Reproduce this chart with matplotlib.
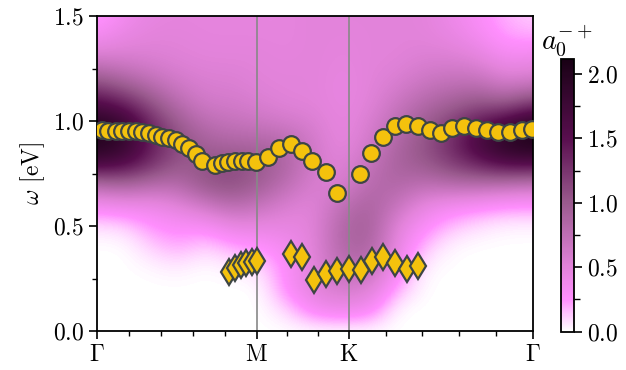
import numpy as np
import matplotlib
matplotlib.use("Agg")
import matplotlib.pyplot as plt
from matplotlib.colors import LinearSegmentedColormap
from matplotlib.ticker import MultipleLocator, FixedLocator

plt.rcParams["font.family"] = "serif"
plt.rcParams["font.serif"] = ["cmr10"]
plt.rcParams["mathtext.fontset"] = "cm"
plt.rcParams["axes.formatter.use_mathtext"] = True
plt.rcParams["font.size"] = 17

# high-symmetry points along the path (hexagonal BZ, path length units)
k_labels = [r"$\Gamma$", r"$\mathrm{M}$", r"$\mathrm{K}$", r"$\Gamma$"]
k_nodes = [0.0, 0.5774, 0.9107, 1.5774]
k_minor_steps = [5, 3, 5]

# spectral weight a_0^{-+}(k, omega) on a coarse grid
omega_grid = np.arange(0.0, 1.51, 0.1)
spec = np.array([
    # one column per k point, rows omega = 0.0 ... 1.5
    [0, 0, 0, 0, 0, 0.08, 0.35, 0.80, 1.70, 2.05, 1.95, 1.50, 1.00, 0.60, 0.35, 0.20],
    [0, 0, 0, 0, 0, 0.10, 0.40, 0.90, 1.60, 1.90, 1.80, 1.30, 0.85, 0.58, 0.45, 0.36],
    [0, 0, 0, 0.02, 0.12, 0.25, 0.40, 0.80, 1.30, 1.40, 1.30, 1.00, 0.72, 0.55, 0.50, 0.46],
    [0, 0, 0, 0.05, 0.20, 0.30, 0.50, 0.80, 1.00, 1.10, 0.95, 0.75, 0.60, 0.52, 0.50, 0.48],
    [0, 0, 0, 0, 0.10, 0.30, 0.65, 1.05, 1.05, 0.90, 0.75, 0.60, 0.55, 0.50, 0.48, 0.47],
    [0, 0, 0, 0.05, 0.20, 0.45, 0.80, 1.10, 1.10, 0.85, 0.70, 0.60, 0.55, 0.50, 0.48, 0.47],
    [0, 0, 0, 0.08, 0.25, 0.45, 0.70, 0.95, 1.00, 0.85, 0.65, 0.55, 0.50, 0.50, 0.48, 0.47],
    [0, 0.10, 0.30, 0.30, 0.35, 0.45, 0.55, 0.75, 0.85, 0.80, 0.60, 0.50, 0.50, 0.48, 0.47, 0.47],
    [0, 0.35, 0.50, 0.50, 0.50, 0.50, 0.50, 0.55, 0.60, 0.60, 0.55, 0.50, 0.50, 0.50, 0.50, 0.50],
    [0, 0.40, 0.60, 0.75, 0.85, 0.85, 0.75, 0.55, 0.50, 0.45, 0.45, 0.45, 0.45, 0.47, 0.48, 0.50],
    [0, 0.35, 0.55, 0.75, 0.90, 0.95, 0.90, 0.80, 0.70, 0.60, 0.55, 0.50, 0.50, 0.50, 0.50, 0.50],
    [0, 0, 0.20, 0.35, 0.45, 0.50, 0.70, 0.85, 0.90, 0.85, 0.75, 0.65, 0.55, 0.50, 0.50, 0.50],
    [0, 0, 0, 0.03, 0.15, 0.30, 0.45, 0.75, 1.00, 1.05, 0.95, 0.80, 0.65, 0.55, 0.50, 0.50],
    [0, 0, 0, 0, 0.02, 0.15, 0.35, 0.80, 1.20, 1.30, 1.15, 0.90, 0.70, 0.55, 0.45, 0.40],
    [0, 0, 0, 0, 0, 0.08, 0.30, 0.80, 1.40, 1.70, 1.40, 1.00, 0.70, 0.50, 0.35, 0.30],
    [0, 0, 0, 0, 0, 0.03, 0.25, 0.75, 1.60, 2.00, 1.60, 0.90, 0.55, 0.35, 0.22, 0.18],
    [0, 0, 0, 0, 0, 0.03, 0.25, 0.70, 1.60, 2.10, 1.90, 1.10, 0.60, 0.40, 0.20, 0.12],
]).T

# quasiparticle band (circles)
band_k = [0.017, 0.041, 0.068, 0.092, 0.116, 0.140, 0.164, 0.188, 0.212, 0.236,
          0.261, 0.285, 0.309, 0.333, 0.357, 0.381, 0.427, 0.451, 0.475, 0.499,
          0.524, 0.547, 0.574, 0.618, 0.659, 0.702, 0.743, 0.777, 0.828, 0.868,
          0.953, 0.992, 1.035, 1.077, 1.119, 1.161, 1.204, 1.244, 1.286, 1.327,
          1.370, 1.411, 1.452, 1.495, 1.537, 1.575]
band_w = [0.957, 0.954, 0.951, 0.951, 0.951, 0.951, 0.948, 0.941, 0.935, 0.925,
          0.919, 0.910, 0.890, 0.871, 0.843, 0.808, 0.792, 0.798, 0.805, 0.808,
          0.808, 0.808, 0.805, 0.827, 0.871, 0.890, 0.856, 0.808, 0.757, 0.656,
          0.750, 0.846, 0.922, 0.978, 0.986, 0.978, 0.959, 0.941, 0.967, 0.976,
          0.967, 0.957, 0.948, 0.948, 0.957, 0.962]

# low-energy branch (diamonds)
low_k = [0.479, 0.499, 0.520, 0.539, 0.560, 0.578, 0.701, 0.743, 0.785,
         0.828, 0.869, 0.912, 0.954, 0.994, 1.036, 1.078, 1.121, 1.163]
low_w = [0.283, 0.302, 0.314, 0.322, 0.327, 0.335, 0.367, 0.351, 0.243,
         0.270, 0.287, 0.294, 0.290, 0.335, 0.351, 0.322, 0.294, 0.310]

vmax = 2.12
cmap = LinearSegmentedColormap.from_list("pinkpurple", [
    (0.0, "#ffffff"),
    (0.047, "#ffd6ff"),
    (0.118, "#ff8ffe"),
    (0.236, "#e283da"),
    (0.472, "#9a5a8e"),
    (0.708, "#580e4e"),
    (0.943, "#250420"),
    (1.0, "#180014"),
])

fig = plt.figure(figsize=(6.26, 3.70), dpi=100)
ax = fig.add_axes([97 / 626, 1 - 331 / 370, 436 / 626, 315 / 370])
cax = fig.add_axes([561 / 626, 1 - 331.5 / 370, 13 / 626, 273 / 370])

nk = spec.shape[1]
dk = k_nodes[-1] / (nk - 1)
dw = omega_grid[1] - omega_grid[0]
im = ax.imshow(spec, origin="lower", aspect="auto", cmap=cmap, vmin=0, vmax=vmax,
               interpolation="bicubic",
               extent=[-dk / 2, k_nodes[-1] + dk / 2, -dw / 2, omega_grid[-1] + dw / 2])

for kk in k_nodes[1:-1]:
    ax.axvline(kk, color="#888888", lw=1.2, zorder=2)

ax.plot(band_k, band_w, "o", ms=12, mfc="#f4c20d", mec="#3d4545", mew=1.6, zorder=3)
ax.plot(low_k, low_w, "d", ms=13, mfc="#f4c20d", mec="#3d4545", mew=1.6, zorder=3)

ax.set_xlim(k_nodes[0], k_nodes[-1])
ax.set_ylim(0, 1.5)
ax.set_xticks(k_nodes)
ax.set_xticklabels(k_labels)
minor = []
for a, b, n in zip(k_nodes[:-1], k_nodes[1:], k_minor_steps):
    minor += list(np.linspace(a, b, n + 1)[1:-1])
ax.xaxis.set_minor_locator(FixedLocator(minor))
ax.yaxis.set_major_locator(MultipleLocator(0.5))
ax.yaxis.set_minor_locator(MultipleLocator(0.25))
ax.set_ylabel(r"$\omega$ [eV]")
ax.tick_params(which="major", length=6, width=1.2)
ax.tick_params(which="minor", length=3.5, width=1.0)
for s in ax.spines.values():
    s.set_linewidth(1.3)

cb = fig.colorbar(im, cax=cax)
cb.set_ticks([0.0, 0.5, 1.0, 1.5, 2.0])
cb.ax.yaxis.set_minor_locator(MultipleLocator(0.25))
cb.ax.tick_params(which="major", length=6, width=1.2)
cb.ax.tick_params(which="minor", length=4, width=1.0)
cb.outline.set_linewidth(1.3)
cax.set_title(r"$a_0^{-+}$", pad=6)

fig.savefig("out.png", dpi=100)
